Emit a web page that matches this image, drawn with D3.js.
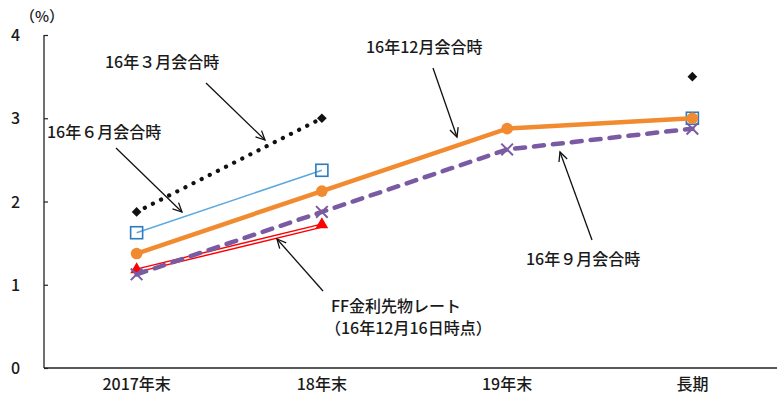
<!DOCTYPE html>
<html>
<head>
<meta charset="utf-8">
<script src="https://cdn.jsdelivr.net/npm/d3@7"></script>
<style>
  html, body { margin: 0; padding: 0; background: #fff; }
  svg text { font-family: "Noto Sans CJK JP", "Noto Sans", sans-serif; fill: #1a1a1a; font-weight: 500; }
</style>
</head>
<body>
<svg id="chart" width="777" height="404"></svg>
<script>
// Categories and projections (%, median of FOMC participants; FF futures)
const categories = ["2017年末", "18年末", "19年末", "長期"];
const march2016 = [1.875, 3.0, null, 3.5];
const june2016 = [1.625, 2.375, null, 3.0];
const sept2016 = [1.125, 1.875, 2.625, 2.875];
const dec2016 = [1.375, 2.125, 2.875, 3.0];
const ffFutures = [1.17, 1.71, null, null];
const yTicks = [0, 1, 2, 3, 4];

const svg = d3.select("#chart");
const x = d3.scaleBand().domain(categories).range([44, 785]);
const y = d3.scaleLinear().domain([0, 4]).range([368, 35]);
const cx = c => x(c) + x.bandwidth() / 2;

// Axes
const yAxis = svg.append("g").attr("transform", "translate(44,0)")
  .call(d3.axisRight(y).tickValues(yTicks).tickSize(4).tickFormat(d3.format("d")));
yAxis.select(".domain").attr("stroke", "#222").attr("stroke-width", 1.3).attr("d", `M0,${y(4)}V${y(0)}`);
yAxis.selectAll(".tick line").attr("stroke", "#222").attr("stroke-width", 1.2);
yAxis.selectAll(".tick text").attr("x", -33).attr("text-anchor", "start")
  .attr("font-size", 16).attr("dy", "0.35em");

const xAxis = svg.append("g").attr("transform", "translate(0,368)")
  .call(d3.axisBottom(x).tickSize(0).tickPadding(11));
xAxis.select(".domain").attr("stroke", "#222").attr("stroke-width", 1.5).attr("d", "M44,0H777");
xAxis.selectAll(".tick text").attr("font-size", 16);

svg.append("text").attr("x", 20).attr("y", 22).attr("font-size", 15).text("（%）");

const pts = vals => categories.map((c, i) => ({ c, v: vals[i] }));
const line = d3.line().defined(d => d.v != null).x(d => cx(d.c)).y(d => y(d.v));
// Line segments only between consecutive years (long-run point stands alone)
const seg = vals => pts(vals).slice(0, 3);

// March 2016: black dotted line with diamonds
svg.append("path").attr("d", line(seg(march2016))).attr("fill", "none")
  .attr("stroke", "#111").attr("stroke-width", 4.2).attr("stroke-linecap", "round")
  .attr("stroke-dasharray", "0.1 9");
svg.selectAll(".m3").data(pts(march2016).filter(d => d.v != null)).join("path")
  .attr("d", d3.symbol(d3.symbolDiamond2, 60))
  .attr("transform", d => `translate(${cx(d.c)},${y(d.v)})`).attr("fill", "#111");

// June 2016: thin blue line with open squares
svg.append("path").attr("d", line(seg(june2016))).attr("fill", "none")
  .attr("stroke", "#5ea9df").attr("stroke-width", 1.6);
svg.selectAll(".m6").data(pts(june2016).filter(d => d.v != null)).join("rect")
  .attr("x", d => cx(d.c) - 6).attr("y", d => y(d.v) - 6).attr("width", 12).attr("height", 12)
  .attr("fill", "#fff").attr("fill-opacity", 0).attr("stroke", "#2b7bbf").attr("stroke-width", 1.6);

// FF futures: red double line with triangles
const ffPath = line(seg(ffFutures));
svg.append("path").attr("d", ffPath).attr("fill", "none").attr("stroke", "#f00").attr("stroke-width", 4.5);
svg.append("path").attr("d", ffPath).attr("fill", "none").attr("stroke", "#fff").attr("stroke-width", 1.6);
svg.selectAll(".ff").data(pts(ffFutures).filter(d => d.v != null)).join("path")
  .attr("d", d3.symbol(d3.symbolTriangle, 70))
  .attr("transform", d => `translate(${cx(d.c)},${y(d.v) - 1})`).attr("fill", "#f00");

// December 2016: thick orange line with circles
svg.append("path").attr("d", line(pts(dec2016))).attr("fill", "none")
  .attr("stroke", "#f28a30").attr("stroke-width", 4.5);
svg.selectAll(".m12").data(pts(dec2016)).join("circle")
  .attr("cx", d => cx(d.c)).attr("cy", d => y(d.v)).attr("r", 5.8).attr("fill", "#f28a30");

// September 2016: purple dashed line with crosses
svg.append("path").attr("d", line(pts(sept2016))).attr("fill", "none")
  .attr("stroke", "#7a5ba3").attr("stroke-width", 4.5).attr("stroke-linecap", "round")
  .attr("stroke-dasharray", "10 9");
svg.selectAll(".m9").data(pts(sept2016)).join("path")
  .attr("d", d3.symbol(d3.symbolTimes, 90))
  .attr("transform", d => `translate(${cx(d.c)},${y(d.v)})`)
  .attr("fill", "none").attr("stroke", "#7a5ba3").attr("stroke-width", 2);

// Annotations with arrows
const notes = [
  { lines: ["16年３月会合時"], tx: 105, ty: 68, from: [206, 83], to: [265, 140] },
  { lines: ["16年６月会合時"], tx: 47, ty: 138, from: [116, 148], to: [182, 212] },
  { lines: ["16年12月会合時"], tx: 366, ty: 53, from: [433, 68], to: [457, 137] },
  { lines: ["16年９月会合時"], tx: 526, ty: 265, from: [592, 240], to: [560, 152] },
  { lines: ["FF金利先物レート", "（16年12月16日時点）"], tx: 331, ty: 312, from: [323, 291], to: [277, 239] }
];
notes.forEach(n => {
  const t = svg.append("text").attr("x", n.tx).attr("y", n.ty).attr("font-size", 16);
  n.lines.forEach((s, i) => t.append("tspan").attr("x", i ? n.tx - 6 : n.tx).attr("dy", i ? 22 : 0).text(s));
  const [x1, y1] = n.from, [x2, y2] = n.to;
  svg.append("line").attr("x1", x1).attr("y1", y1).attr("x2", x2).attr("y2", y2)
    .attr("stroke", "#111").attr("stroke-width", 1.3);
  const a = Math.atan2(y2 - y1, x2 - x1), L = 10, w = 0.45;
  svg.append("path")
    .attr("d", `M${x2 - L * Math.cos(a - w)},${y2 - L * Math.sin(a - w)}L${x2},${y2}L${x2 - L * Math.cos(a + w)},${y2 - L * Math.sin(a + w)}`)
    .attr("fill", "none").attr("stroke", "#111").attr("stroke-width", 1.3);
});
</script>
</body>
</html>
